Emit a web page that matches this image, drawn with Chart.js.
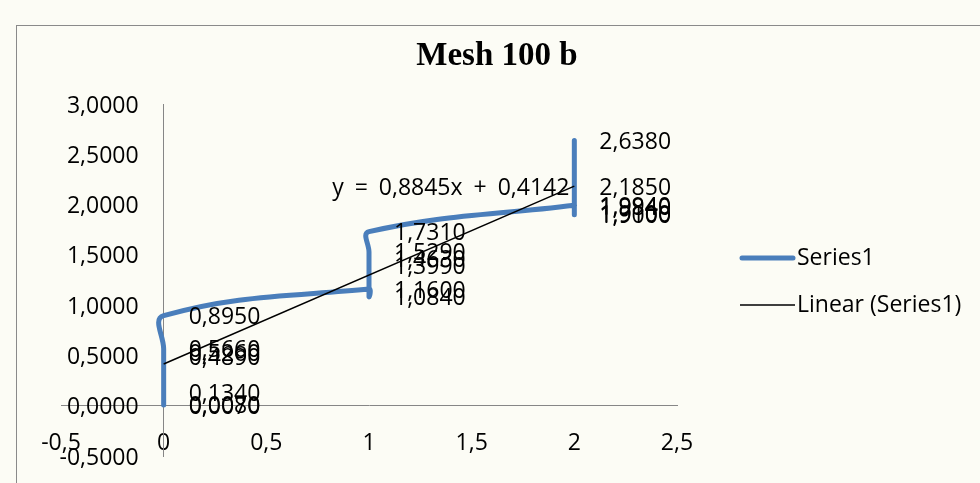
<!DOCTYPE html>
<html><head><meta charset="utf-8">
<script src="https://cdn.jsdelivr.net/npm/chart.js@4/dist/chart.umd.min.js"></script>
<style>
html,body{margin:0;padding:0;background:#fcfcf5;overflow:hidden;}
#wrap{position:absolute;left:0;top:0;width:980px;height:483px;}
#frame{position:absolute;left:16px;top:25px;width:980px;height:480px;border-left:1px solid #8a8a8a;border-top:1px solid #8a8a8a;}
canvas{position:absolute;left:0;top:0;}
</style></head><body>
<div id="wrap"><div id="frame"></div><canvas id="c" width="980" height="483"></canvas></div>
<script>
const chartTitle = 'Mesh 100 b';
const seriesName = 'Series1';
const trendName = 'Linear (Series1)';
const xValues = [0, 0, 0, 0, 0, 0, 0, 1, 1, 1, 1, 1, 1, 2, 2, 2, 2, 2, 2];
const yValues = [0.0070, 0.0080, 0.1340, 0.4890, 0.5260, 0.5660, 0.8950,
                 1.1600, 1.0840, 1.3990, 1.4630, 1.5290, 1.7310,
                 1.9940, 1.9840, 1.9100, 1.9000, 2.1850, 2.6380];
const trendSlope = 0.8845;
const trendIntercept = 0.4142;
const trendX = [0, 2];
const xTicks = [-0.5, 0, 0.5, 1, 1.5, 2, 2.5];
const yTicks = [-0.5, 0, 0.5, 1, 1.5, 2, 2.5, 3];

const FONT = '"Open Sans", "Liberation Sans", sans-serif';
const FS = 23;
const comma = s => String(s).replace('.', ',');
const fmtY = v => comma(Number(v).toFixed(4));
const fmtX = v => comma(Number(v));

const seriesPts = xValues.map((x, i) => ({x: x, y: yValues[i]}));
const trendPts = trendX.map(x => ({x: x, y: trendIntercept + trendSlope * x}));

const BLUE = '#4a7ebb';
const Y_LABEL_GAP = 25;

const overlay = {
  id: 'overlay',
  afterDatasetsDraw(chart) {
    const ctx = chart.ctx;
    ctx.save();
    const meta = chart.getDatasetMeta(1);
    ctx.fillStyle = '#000';
    ctx.font = FS + 'px ' + FONT;
    ctx.textAlign = 'left';
    ctx.textBaseline = 'middle';
    meta.data.forEach((el, i) => {
      ctx.fillText(fmtY(yValues[i]), el.x + 25, el.y + 2);
    });
    const xs = chart.scales.x, ys = chart.scales.y;
    const tx = xs.getPixelForValue(trendX[1]);
    const ty = ys.getPixelForValue(trendPts[1].y);
    ctx.textAlign = 'right';
    try { ctx.wordSpacing = '5px'; } catch (e) {}
    ctx.fillText('y = ' + comma(trendSlope.toFixed(4)) + 'x + ' + comma(trendIntercept.toFixed(4)), tx - 5, ty + 2);
    ctx.restore();
  },
  afterDraw(chart) {
    const ctx = chart.ctx;
    ctx.save();
    ctx.fillStyle = '#000';
    ctx.font = 'bold 33px "Liberation Serif", "Times New Roman", serif';
    ctx.textAlign = 'center';
    ctx.textBaseline = 'middle';
    ctx.fillText(chartTitle, 497, 56);
    ctx.lineCap = 'round';
    ctx.strokeStyle = BLUE; ctx.lineWidth = 5;
    ctx.beginPath(); ctx.moveTo(742, 258); ctx.lineTo(793, 258); ctx.stroke();
    ctx.lineCap = 'butt';
    ctx.strokeStyle = '#000'; ctx.lineWidth = 1.5;
    ctx.beginPath(); ctx.moveTo(740, 305); ctx.lineTo(795, 305); ctx.stroke();
    ctx.font = FS + 'px ' + FONT;
    ctx.textAlign = 'left';
    ctx.fillText(seriesName, 797, 258);
    ctx.fillText(trendName, 797, 305);
    ctx.restore();
  }
};

new Chart(document.getElementById('c'), {
  type: 'scatter',
  data: {
    datasets: [
      {label: trendName, data: trendPts, showLine: true, borderColor: '#000', borderWidth: 1.5,
       pointRadius: 0, pointHoverRadius: 0, tension: 0, order: 0},
      {label: seriesName, data: seriesPts, showLine: true, borderColor: BLUE, borderWidth: 5,
       pointRadius: 0, pointHoverRadius: 0, tension: 0.4, borderCapStyle: 'round', borderJoinStyle: 'round', order: 1}
    ]
  },
  options: {
    responsive: false,
    animation: false,
    devicePixelRatio: 1,
    layout: {padding: {left: 61, right: 303, top: 104, bottom: 27}},
    plugins: {legend: {display: false}, title: {display: false}, tooltip: {enabled: false}},
    scales: {
      x: {
        type: 'linear', min: -0.5, max: 2.5, position: {y: 0},
        grid: {display: false},
        border: {display: true, color: '#868686', width: 1},
        afterBuildTicks: s => { s.ticks = xTicks.map(v => ({value: v})); },
        ticks: {padding: 16, color: '#000', font: {family: FONT, size: FS}, callback: v => fmtX(v), maxRotation: 0, autoSkip: false}
      },
      y: {
        type: 'linear', min: -0.5, max: 3, position: {x: 0},
        grid: {display: false},
        border: {display: true, color: '#868686', width: 1},
        afterBuildTicks: s => { s.ticks = yTicks.map(v => ({value: v})); },
        afterUpdate: s => {
          const proto = Object.getPrototypeOf(s);
          s._computeLabelItems = function (ca) {
            const items = proto._computeLabelItems.call(this, ca);
            items.forEach(it => { it.options.translation[0] -= Y_LABEL_GAP; it.options.translation[1] += 2; });
            return items;
          };
        },
        ticks: {padding: 0, color: '#000', font: {family: FONT, size: FS}, callback: v => fmtY(v), autoSkip: false}
      }
    }
  },
  plugins: [overlay]
});
</script>
</body></html>
